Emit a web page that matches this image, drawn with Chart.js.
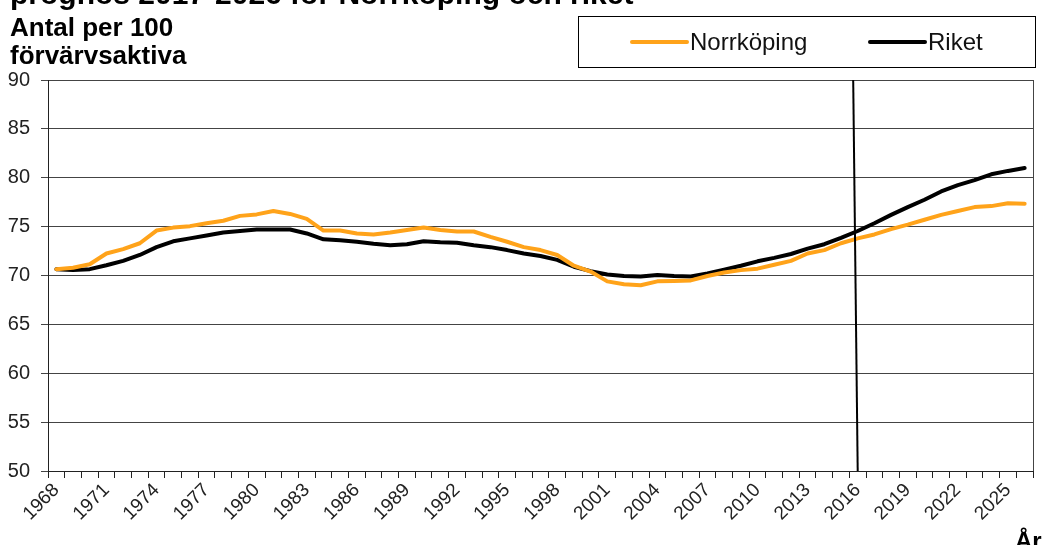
<!DOCTYPE html>
<html>
<head>
<meta charset="utf-8">
<script src="https://cdn.jsdelivr.net/npm/chart.js@4.4.1/dist/chart.umd.min.js"></script>
<style>
  html, body { margin: 0; padding: 0; background: #fff; }
  #wrap { width: 1044px; height: 545px; position: relative; }
</style>
</head>
<body>
<div id="wrap"><canvas id="myChart"></canvas></div>
<script>
const years = [
  "1968","1969","1970","1971","1972","1973","1974","1975","1976","1977",
  "1978","1979","1980","1981","1982","1983","1984","1985","1986","1987",
  "1988","1989","1990","1991","1992","1993","1994","1995","1996","1997",
  "1998","1999","2000","2001","2002","2003","2004","2005","2006","2007",
  "2008","2009","2010","2011","2012","2013","2014","2015","2016","2017",
  "2018","2019","2020","2021","2022","2023","2024","2025","2026"
];

const norrkoping = [
  70.65, 70.8, 71.15, 72.25, 72.7, 73.3, 74.6, 74.9, 75.05, 75.35,
  75.6, 76.1, 76.25, 76.6, 76.3, 75.8, 74.6, 74.6, 74.3, 74.2,
  74.4, 74.65, 74.9, 74.65, 74.5, 74.5, 73.95, 73.45, 72.9, 72.6,
  72.1, 71.0, 70.4, 69.4, 69.1, 69.0, 69.4, 69.45, 69.5, 69.95,
  70.3, 70.55, 70.7, 71.1, 71.5, 72.25, 72.6, 73.3, 73.8, 74.2,
  74.75, 75.2, 75.7, 76.2, 76.6, 77.0, 77.1, 77.4, 77.35
];

const riket = [
  70.65, 70.55, 70.65, 71.05, 71.5, 72.1, 72.9, 73.5, 73.8, 74.1,
  74.4, 74.55, 74.7, 74.7, 74.7, 74.3, 73.7, 73.6, 73.45, 73.25,
  73.1, 73.2, 73.5, 73.4, 73.35, 73.1, 72.9, 72.6, 72.25, 72.0,
  71.6, 70.9, 70.45, 70.1, 69.95, 69.9, 70.05, 69.95, 69.9, 70.2,
  70.6, 71.0, 71.45, 71.8, 72.2, 72.75, 73.2, 73.85, 74.55, 75.35,
  76.2, 77.0, 77.75, 78.6, 79.25, 79.75, 80.35, 80.7, 81.0
];

const yTicks = [50, 55, 60, 65, 70, 75, 80, 85, 90];
const prognosStart = "2016";

const FONT = '"Liberation Sans", Arial, sans-serif';
const ORANGE = "#ffa31a";

// text, legend box, forecast divider and right frame
const extras = {
  id: "extras",
  afterDatasetsDraw(chart) {
    const { ctx, chartArea: a, scales: { x } } = chart;
    ctx.save();

    // forecast divider (leans slightly, like the original)
    const i = years.indexOf(prognosStart);
    ctx.strokeStyle = "#000";
    ctx.lineWidth = 2;
    ctx.beginPath();
    ctx.moveTo(x.getPixelForValue(i - 0.27), a.top);
    ctx.lineTo(x.getPixelForValue(i), a.bottom);
    ctx.stroke();

    // right frame
    ctx.strokeStyle = "#444";
    ctx.lineWidth = 1;
    ctx.beginPath();
    ctx.moveTo(a.right + 0.5, a.top);
    ctx.lineTo(a.right + 0.5, a.bottom);
    ctx.stroke();
    ctx.restore();
  },
  afterDraw(chart) {
    const { ctx } = chart;
    ctx.save();
    ctx.fillStyle = "#000";
    ctx.textBaseline = "alphabetic";
    ctx.textAlign = "left";

    ctx.font = "bold 30px " + FONT;
    ctx.fillText("prognos 2017-2026 för Norrköping och riket", 10, 4);

    ctx.font = "bold 26px " + FONT;
    ctx.fillText("Antal per 100", 10, 36);
    ctx.fillText("förvärvsaktiva", 10, 64);

    ctx.font = "bold 24px " + FONT;
    ctx.fillText("År", 1015, 549);

    // legend
    ctx.strokeStyle = "#000";
    ctx.lineWidth = 1;
    ctx.strokeRect(578.5, 16.5, 457, 51);
    ctx.font = "24px " + FONT;
    ctx.textBaseline = "middle";
    const items = [
      { x: 632, ds: chart.data.datasets[0] },
      { x: 870, ds: chart.data.datasets[1] }
    ];
    items.forEach(it => {
      ctx.strokeStyle = it.ds.borderColor;
      ctx.lineWidth = 4;
      ctx.lineCap = "round";
      ctx.beginPath();
      ctx.moveTo(it.x, 42);
      ctx.lineTo(it.x + 55, 42);
      ctx.stroke();
      ctx.fillStyle = "#111";
      ctx.fillText(it.ds.label, it.x + 58, 43);
    });
    ctx.restore();
  }
};

const config = {
  type: "line",
  data: {
    labels: years,
    datasets: [
      {
        label: "Norrköping",
        data: norrkoping,
        borderColor: ORANGE,
        borderWidth: 4,
        pointRadius: 0,
        tension: 0,
        borderCapStyle: "round",
        borderJoinStyle: "round"
      },
      {
        label: "Riket",
        data: riket,
        borderColor: "#000",
        borderWidth: 4,
        pointRadius: 0,
        tension: 0,
        borderCapStyle: "round",
        borderJoinStyle: "round"
      }
    ]
  },
  options: {
    responsive: true,
    maintainAspectRatio: false,
    animation: false,
    layout: { padding: { top: 80, right: 11, left: 0, bottom: 0 } },
    plugins: {
      legend: { display: false },
      tooltip: { enabled: false }
    },
    scales: {
      x: {
        type: "category",
        offset: true,
        grid: {
          offset: true,
          drawOnChartArea: false,
          drawTicks: true,
          tickLength: 7,
          color: "#222"
        },
        border: { color: "#222", width: 1 },
        ticks: {
          autoSkip: false,
          maxRotation: 45,
          minRotation: 45,
          padding: 1,
          color: "#222",
          font: { family: FONT, size: 19 },
          callback: (v, i) => (i % 3 === 0 ? years[i] : "")
        },
        afterFit: s => { s.height = 74; }
      },
      y: {
        min: yTicks[0],
        max: yTicks[yTicks.length - 1],
        afterBuildTicks: s => { s.ticks = yTicks.map(v => ({ value: v })); },
        grid: {
          color: "#444",
          lineWidth: 1,
          tickLength: 7
        },
        border: { color: "#222", width: 1 },
        ticks: {
          padding: 11,
          color: "#222",
          font: { family: FONT, size: 20 }
        },
        afterFit: s => { s.width = 48; }
      }
    }
  },
  plugins: [extras]
};

const myChart = new Chart(document.getElementById("myChart"), config);
</script>
</body>
</html>
